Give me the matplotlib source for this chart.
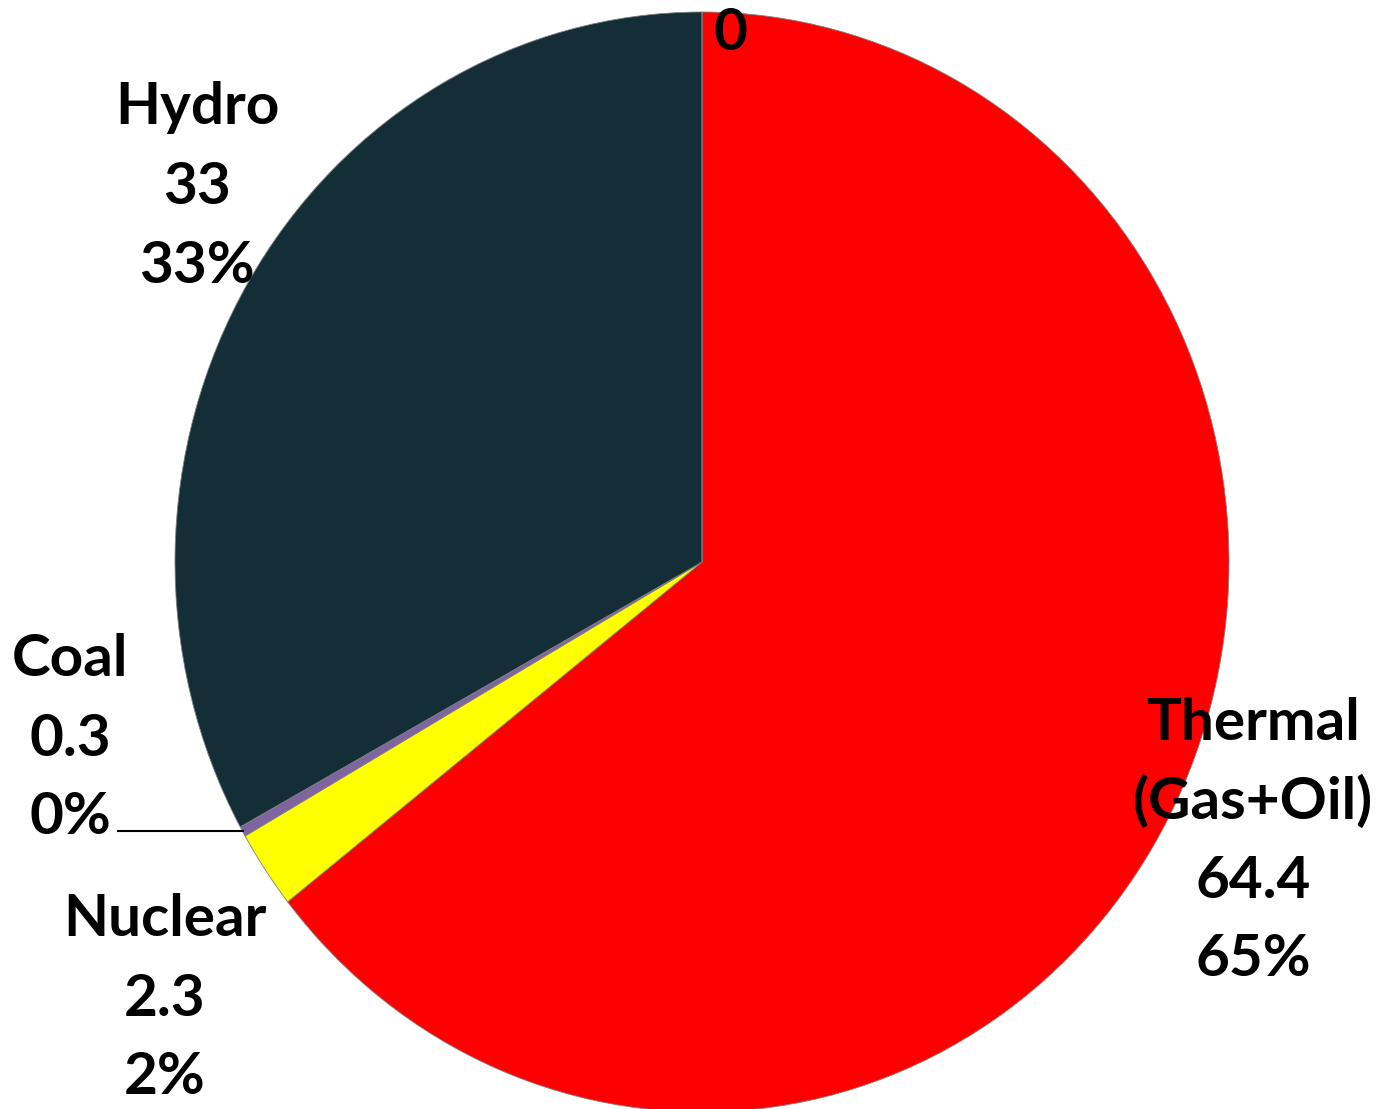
import matplotlib.pyplot as plt

sources = ['Thermal\n(Gas+Oil)', 'Nuclear', 'Coal', 'Hydro', '']
values = [64.4, 2.3, 0.3, 33, 0]
pct_labels = ['65%', '2%', '0%', '33%', '']
colors = ['#FF0000', '#FFFF00', '#8064A2', '#132E37', '#4F81BD']

W, H = 1384, 1109
fig = plt.figure(figsize=(W / 100, H / 100), dpi=100)
ax = fig.add_axes([0, 0, 1, 1])

# pie centre at pixel (702, 562), radius ~527 px wide, ~550 px tall
rx, ry = 527.0, 550.0
cx, cy = 702.0, 562.0
ax.pie(values, colors=colors, startangle=90, counterclock=False,
       wedgeprops=dict(edgecolor='#808080', linewidth=0.6))
ax.set_aspect('auto')
ax.set_xlim(-cx / rx, (W - cx) / rx)
ax.set_ylim(-(H - cy) / ry, cy / ry)
ax.axis('off')


def px(x, y):
    return x / W, 1 - y / H


font = dict(family=['Lato', 'DejaVu Sans'], fontsize=42, fontweight='bold',
            ha='center', va='center', linespacing=1.2)

# label anchor (first line centre) in pixels
label_pos = {'Thermal\n(Gas+Oil)': (1253, 723), 'Nuclear': (165, 920),
             'Coal': (70, 660), 'Hydro': (197, 108)}
step = 79
for name, val, pct in zip(sources, values, pct_labels):
    if name == '':
        fig.text(*px(730, 33), '0', **font)
        continue
    x, y = label_pos[name]
    lines = name.split('\n') + [f'{val:g}', pct]
    for i, line in enumerate(lines):
        fig.text(*px(x, y + i * step), line, **font)

# leader line for the coal label
x0, y0 = px(118, 831)
x1, y1 = px(243, 831)
fig.add_artist(plt.Line2D([x0, x1], [y0, y1], color='black', linewidth=1.5))

fig.savefig('out.png', dpi=100)
